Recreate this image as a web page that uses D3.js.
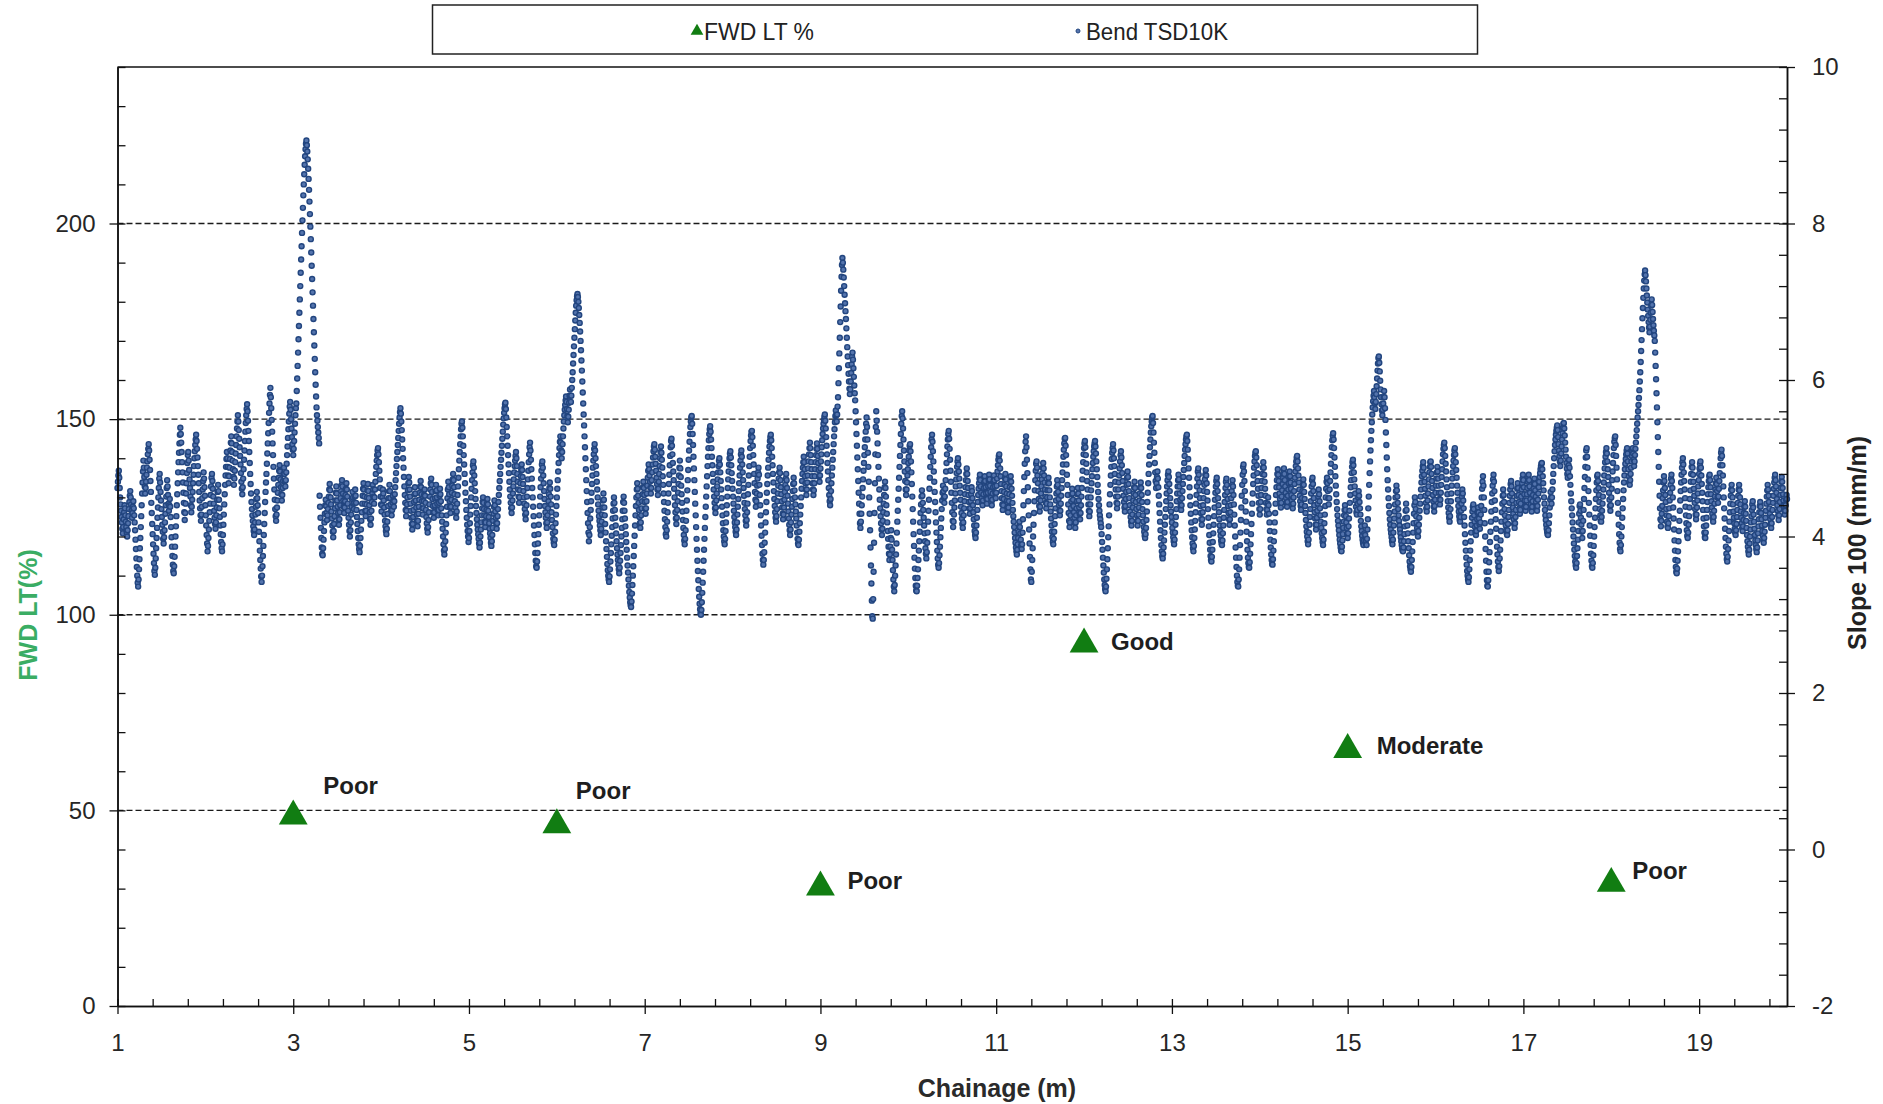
<!DOCTYPE html>
<html><head><meta charset="utf-8">
<script src="https://cdn.jsdelivr.net/npm/d3@7"></script>
<style>
html,body{margin:0;padding:0;background:#fff;}
svg{display:block;font-family:"Liberation Sans",Arial,Helvetica,sans-serif;}
.axis .domain{stroke:#111;stroke-width:1.5;}
.axis .tick line{stroke:#111;stroke-width:1.3;}
.axis .tick text{font-size:24px;fill:#262626;font-family:"Liberation Sans",Arial,sans-serif;}
</style></head><body>
<svg id="chart" width="1883" height="1104"></svg>
<script>
// FWD load transfer at the test joints
const fwdChainage = [3, 6, 9, 12, 15, 18];
const fwdLT = [48.5, 46.3, 30.4, 92.5, 65.5, 31.3];
const fwdRating = ["Poor", "Poor", "Poor", "Good", "Moderate", "Poor"];

// TSD slope at 100 mm (mm/m), evenly sampled from chainage 1 to 20
const tsdStart = 1, tsdEnd = 20;
const tsdSlope100 = [
4.62,4.70,4.78,4.84,4.75,4.62,4.50,4.41,4.33,4.25,4.18,4.10,4.04,4.12,4.22,4.31,4.40,4.36,4.27,4.19,
4.12,4.05,4.00,4.08,4.17,4.26,4.35,4.44,4.52,4.58,4.50,4.41,4.33,4.24,4.30,4.38,4.45,4.36,4.27,4.18,
4.08,3.96,3.84,3.72,3.61,3.50,3.41,3.36,3.45,3.58,3.71,3.85,3.98,4.12,4.26,4.40,4.55,4.69,4.83,4.97,
4.88,4.76,4.64,4.55,4.62,4.70,4.79,4.88,4.96,5.05,5.12,5.18,5.10,4.98,4.85,4.71,4.57,4.43,4.30,4.16,
4.03,3.90,3.78,3.66,3.56,3.51,3.60,3.72,3.85,3.98,4.11,4.24,4.37,4.50,4.62,4.74,4.80,4.69,4.57,4.46,
4.35,4.25,4.15,4.06,3.97,3.91,3.99,4.08,4.18,4.29,4.40,4.51,4.62,4.72,4.64,4.53,4.42,4.33,4.40,4.48,
4.38,4.25,4.12,3.99,3.87,3.75,3.64,3.56,3.53,3.62,3.74,3.87,4.00,4.13,4.26,4.40,4.54,4.68,4.82,4.95,
5.07,5.19,5.30,5.39,5.31,5.20,5.08,4.95,4.82,4.69,4.56,4.43,4.31,4.21,4.30,4.42,4.55,4.68,4.81,4.94,
5.04,5.08,4.97,4.85,4.73,4.62,4.51,4.40,4.31,4.38,4.47,4.57,4.68,4.79,4.90,5.00,5.09,5.17,5.24,5.30,
5.22,5.12,5.01,4.90,4.79,4.68,4.57,4.46,4.36,4.27,4.20,4.28,4.38,4.49,4.60,4.71,4.82,4.74,4.63,4.52,
4.40,4.27,4.14,4.02,3.91,3.81,3.88,3.98,4.09,4.20,4.31,4.42,4.53,4.64,4.75,4.80,4.71,4.61,4.51,4.42,
4.33,4.24,4.16,4.10,4.18,4.27,4.37,4.47,4.57,4.66,4.58,4.47,4.36,4.25,4.14,4.03,3.93,3.85,3.81,3.90,
4.02,4.15,4.28,4.41,4.54,4.66,4.78,4.89,4.99,5.08,5.00,4.89,4.78,4.68,4.77,4.88,4.99,5.10,5.20,5.28,
5.19,5.08,4.97,4.86,4.76,4.66,4.74,4.84,4.95,5.06,5.17,5.28,5.38,5.47,5.55,5.47,5.36,5.25,5.14,5.03,
4.92,4.81,4.70,4.61,4.54,4.63,4.74,4.86,4.98,5.10,5.22,5.34,5.45,5.55,5.63,5.69,5.60,5.48,5.35,5.22,
5.08,4.94,4.80,4.67,4.55,4.44,4.35,4.27,4.20,4.13,4.07,4.02,4.09,4.18,4.28,4.38,4.48,4.57,4.49,4.40,
4.30,4.18,4.06,3.94,3.82,3.70,3.59,3.49,3.42,3.50,3.62,3.75,3.88,4.02,4.16,4.30,4.44,4.57,4.69,4.80,
4.93,5.06,5.19,5.32,5.45,5.58,5.70,5.81,5.90,5.78,5.64,5.49,5.34,5.19,5.04,4.89,4.74,4.60,4.47,4.35,
4.26,4.20,4.28,4.37,4.46,4.56,4.66,4.75,4.84,4.91,4.83,4.73,4.63,4.54,4.46,4.53,4.62,4.71,4.80,4.88,
4.80,4.71,4.64,4.72,4.82,4.93,5.04,5.15,5.26,5.37,5.47,5.57,5.66,5.72,5.62,5.50,5.38,5.27,5.18,5.11,
5.04,5.12,5.22,5.33,5.44,5.55,5.64,5.70,5.86,6.02,6.18,6.35,6.52,6.69,6.86,7.03,7.20,7.37,7.54,7.71,
7.88,8.04,8.20,8.36,8.50,8.63,8.75,8.86,8.95,9.02,9.06,9.00,8.92,8.82,8.70,8.57,8.43,8.28,8.12,7.96,
7.80,7.63,7.46,7.29,7.12,6.95,6.78,6.61,6.44,6.27,6.10,5.94,5.79,5.65,5.55,5.48,5.40,5.33,5.26,5.19,
4.52,4.38,4.24,4.11,3.98,3.86,3.78,3.76,3.85,3.96,4.07,4.18,4.29,4.40,4.47,4.39,4.30,4.21,4.27,4.35,
4.43,4.51,4.60,4.67,4.59,4.50,4.41,4.32,4.23,4.14,4.06,3.99,4.07,4.16,4.26,4.36,4.46,4.56,4.64,4.55,
4.46,4.38,4.30,4.22,4.15,4.22,4.31,4.40,4.49,4.58,4.66,4.72,4.64,4.55,4.46,4.38,4.30,4.37,4.45,4.53,
4.61,4.68,4.60,4.51,4.42,4.33,4.24,4.15,4.07,4.00,4.08,4.18,4.28,4.38,4.48,4.57,4.50,4.42,4.35,4.43,
4.51,4.60,4.52,4.43,4.34,4.25,4.16,4.07,3.98,3.90,3.84,3.80,3.88,3.98,4.09,4.20,4.31,4.42,4.52,4.61,
4.68,4.60,4.51,4.42,4.33,4.26,4.33,4.41,4.50,4.59,4.67,4.58,4.49,4.40,4.31,4.22,4.15,4.23,4.33,4.44,
4.55,4.66,4.60,4.51,4.42,4.50,4.60,4.70,4.80,4.89,4.97,5.04,5.10,5.13,5.05,4.95,4.84,4.73,4.62,4.51,
4.41,4.32,4.40,4.50,4.60,4.55,4.46,4.37,4.28,4.20,4.13,4.07,4.03,4.10,4.19,4.29,4.39,4.49,4.58,4.66,
4.58,4.49,4.41,4.33,4.27,4.34,4.43,4.52,4.46,4.38,4.45,4.54,4.63,4.72,4.81,4.90,4.99,5.08,5.17,5.26,
5.35,5.44,5.52,5.59,5.64,5.57,5.47,5.36,5.24,5.12,5.00,4.88,4.76,4.64,4.53,4.43,4.34,4.26,4.33,4.41,
4.50,4.59,4.68,4.76,4.69,4.60,4.51,4.42,4.33,4.24,4.16,4.09,4.16,4.25,4.34,4.44,4.54,4.63,4.55,4.46,
4.37,4.28,4.20,4.13,4.20,4.29,4.38,4.47,4.56,4.64,4.71,4.63,4.54,4.45,4.36,4.28,4.36,4.45,4.53,4.60,
4.52,4.43,4.34,4.25,4.17,4.10,4.05,4.12,4.21,4.31,4.41,4.51,4.60,4.68,4.74,4.66,4.57,4.48,4.39,4.31,
4.24,4.31,4.40,4.49,4.58,4.66,4.59,4.50,4.42,4.34,4.27,4.34,4.43,4.52,4.61,4.54,4.45,4.36,4.27,4.19,
4.10,4.00,3.90,3.82,3.77,3.84,3.94,4.05,4.16,4.27,4.38,4.49,4.60,4.70,4.63,4.54,4.45,4.37,4.30,4.38,
4.47,4.56,4.65,4.73,4.80,4.72,4.63,4.54,4.45,4.37,4.30,4.24,4.32,4.42,4.53,4.64,4.75,4.86,4.97,5.08,
5.18,5.28,5.37,5.44,5.47,5.39,5.28,5.16,5.04,4.92,4.80,4.68,4.56,4.45,4.34,4.24,4.15,4.07,4.00,3.93,
3.98,4.07,4.17,4.28,4.39,4.50,4.61,4.72,4.82,4.91,4.96,4.88,4.78,4.68,4.58,4.48,4.39,4.30,4.22,4.15,
4.09,4.03,3.97,3.91,3.86,3.92,4.00,4.09,4.18,4.27,4.36,4.44,4.50,4.43,4.35,4.27,4.19,4.12,4.18,4.26,
4.34,4.42,4.48,4.41,4.33,4.25,4.17,4.10,4.04,3.98,3.92,3.88,3.94,4.02,4.11,4.20,4.29,4.38,4.46,4.40,
4.32,4.24,4.17,4.10,4.17,4.26,4.35,4.44,4.53,4.62,4.71,4.80,4.89,4.98,5.07,5.16,5.25,5.34,5.43,5.51,
5.58,5.64,5.69,5.71,5.63,5.52,5.40,5.28,5.16,5.04,4.92,4.81,4.70,4.60,4.51,4.43,4.36,4.30,4.37,4.46,
4.55,4.64,4.73,4.82,4.90,4.97,5.03,5.08,5.00,4.90,4.80,4.70,4.60,4.51,4.43,4.50,4.59,4.68,4.77,4.85,
4.92,4.85,4.76,4.67,4.58,4.50,4.42,4.35,4.28,4.22,4.30,4.40,4.51,4.62,4.73,4.84,4.95,5.05,5.14,5.20,
5.10,4.98,4.86,4.74,4.62,4.50,4.38,4.26,4.14,4.02,3.90,3.79,3.69,3.62,3.60,3.68,3.79,3.91,4.03,4.15,
4.27,4.39,4.51,4.63,4.74,4.84,4.92,4.96,4.88,4.78,4.68,4.58,4.48,4.39,4.31,4.24,4.17,4.11,4.18,4.27,
4.36,4.45,4.54,4.62,4.69,4.61,4.51,4.41,4.31,4.21,4.12,4.04,3.97,3.92,3.89,3.96,4.06,4.17,4.28,4.39,
4.50,4.61,4.72,4.83,4.94,5.04,5.13,5.21,5.28,5.20,5.10,5.00,5.08,5.18,5.28,5.38,5.47,5.55,5.62,5.68,
5.74,5.79,5.72,5.63,5.54,5.46,5.53,5.62,5.71,5.80,5.88,5.80,5.72,5.80,5.90,6.00,6.10,6.21,6.32,6.43,
6.54,6.65,6.76,6.86,6.95,7.02,7.07,7.10,7.06,7.00,6.92,6.83,6.73,6.62,6.50,6.38,6.25,6.12,5.98,5.84,
5.70,5.56,5.42,5.28,5.14,5.00,4.86,4.72,4.58,4.44,4.30,4.17,4.05,3.94,4.02,4.12,4.23,4.34,4.45,4.56,
4.67,4.78,4.88,4.97,5.05,5.12,5.18,5.10,5.00,4.90,4.80,4.70,4.60,4.50,4.41,4.33,4.26,4.20,4.14,4.08,
4.02,4.10,4.19,4.28,4.37,4.46,4.55,4.47,4.37,4.27,4.16,4.05,3.94,3.84,3.74,3.65,3.57,3.50,3.45,3.42,
3.49,3.58,3.68,3.79,3.90,4.01,4.12,4.23,4.33,4.42,4.50,4.43,4.34,4.24,4.14,4.04,3.94,3.85,3.77,3.70,
3.64,3.58,3.53,3.60,3.69,3.79,3.89,4.00,4.11,4.22,4.33,4.44,4.51,4.43,4.33,4.23,4.13,4.03,3.93,3.83,
3.73,3.63,3.54,3.45,3.37,3.29,3.22,3.16,3.12,3.10,3.17,3.27,3.38,3.50,3.62,3.75,3.88,4.01,4.14,4.27,
4.39,4.50,4.60,4.68,4.61,4.52,4.43,4.34,4.25,4.17,4.11,4.18,4.27,4.36,4.45,4.54,4.63,4.70,4.62,4.53,
4.44,4.36,4.29,4.36,4.45,4.55,4.65,4.75,4.84,4.92,4.86,4.78,4.70,4.62,4.55,4.62,4.72,4.82,4.92,5.01,
5.09,5.15,5.18,5.11,5.02,4.93,4.84,4.75,4.67,4.60,4.53,4.61,4.70,4.80,4.90,5.00,5.08,5.15,5.07,4.98,
4.88,4.77,4.66,4.55,4.44,4.33,4.22,4.12,4.03,4.00,4.08,4.19,4.31,4.43,4.55,4.67,4.79,4.91,5.03,5.14,
5.22,5.25,5.16,5.05,4.94,4.83,4.72,4.61,4.50,4.40,4.31,4.23,4.16,4.24,4.34,4.45,4.56,4.67,4.78,4.88,
4.97,4.87,4.76,4.65,4.54,4.43,4.32,4.21,4.11,4.02,3.95,3.90,3.97,4.08,4.20,4.33,4.46,4.59,4.72,4.85,
4.98,5.10,5.21,5.31,5.40,5.47,5.52,5.54,5.44,5.31,5.17,5.02,4.87,4.72,4.57,4.42,4.27,4.12,3.97,3.83,
3.69,3.56,3.44,3.33,3.23,3.14,3.07,3.02,3.00,3.06,3.16,3.28,3.41,3.55,3.69,3.83,3.97,4.11,4.25,4.38,
4.51,4.64,4.77,4.90,5.02,5.13,5.23,5.31,5.37,5.41,5.34,5.24,5.13,5.02,4.91,4.80,4.70,4.60,4.51,4.43,
4.36,4.30,4.37,4.46,4.55,4.64,4.73,4.82,4.90,4.97,5.00,4.92,4.82,4.71,4.60,4.49,4.38,4.27,4.17,4.08,
4.00,3.94,3.90,3.97,4.07,4.18,4.29,4.40,4.51,4.62,4.73,4.83,4.92,5.00,5.06,5.09,5.01,4.91,4.81,4.71,
4.61,4.51,4.42,4.33,4.25,4.18,4.12,4.06,4.02,4.09,4.18,4.28,4.38,4.48,4.58,4.68,4.78,4.88,4.97,5.05,
5.10,5.02,4.92,4.82,4.72,4.62,4.52,4.43,4.35,4.27,4.20,4.14,4.21,4.31,4.42,4.54,4.66,4.78,4.90,5.02,
5.13,5.22,5.29,5.34,5.35,5.27,5.16,5.04,4.92,4.80,4.68,4.57,4.47,4.38,4.45,4.55,4.65,4.74,4.82,4.88,
4.79,4.66,4.53,4.40,4.27,4.14,4.01,3.89,3.78,3.70,3.64,3.70,3.80,3.92,4.05,4.18,4.31,4.44,4.56,4.67,
4.78,4.88,4.98,5.07,5.15,5.22,5.27,5.30,5.23,5.13,5.02,4.91,4.80,4.69,4.58,4.48,4.39,4.31,4.24,4.19,
4.26,4.35,4.45,4.55,4.65,4.74,4.82,4.88,4.81,4.72,4.63,4.54,4.45,4.37,4.29,4.22,4.28,4.37,4.47,4.57,
4.66,4.74,4.80,4.72,4.62,4.52,4.42,4.32,4.23,4.15,4.08,4.02,4.09,4.18,4.28,4.38,4.48,4.58,4.67,4.75,
4.68,4.59,4.50,4.41,4.32,4.23,4.14,4.05,3.97,3.91,3.89,3.96,4.06,4.17,4.28,4.39,4.50,4.61,4.71,4.80,
4.88,4.95,5.02,4.95,4.86,4.77,4.68,4.60,4.53,4.60,4.69,4.78,4.87,4.96,5.05,5.13,5.20,5.13,5.04,4.95,
4.86,4.77,4.68,4.60,4.53,4.59,4.68,4.77,4.86,4.95,5.04,5.12,5.19,5.12,5.03,4.94,4.85,4.77,4.70,4.78,
4.87,4.96,5.05,5.14,5.23,5.31,5.38,5.44,5.49,5.53,5.56,5.48,5.38,5.27,5.16,5.05,4.94,4.83,4.72,4.62,
4.53,4.45,4.40,4.48,4.58,4.68,4.78,4.88,4.98,5.08,5.18,5.28,5.37,5.46,5.54,5.61,5.55,5.47,5.56,5.66,
5.78,5.96,6.15,6.34,6.54,6.74,6.94,7.14,7.32,7.47,7.56,7.50,7.41,7.31,7.20,7.09,6.98,6.88,6.78,6.66,
6.54,6.42,6.30,6.19,6.08,5.98,5.89,5.82,5.88,5.98,6.09,6.20,6.30,6.35,6.26,6.15,6.04,5.93,5.83,5.74,
5.60,5.46,5.31,5.16,5.01,4.86,4.71,4.56,4.42,4.29,4.17,4.11,4.19,4.29,4.40,4.51,4.62,4.73,4.84,4.94,
5.04,5.14,5.24,5.34,5.44,5.52,5.40,5.24,5.07,4.89,4.70,4.50,4.29,4.08,3.86,3.63,3.40,3.18,2.98,2.95,
3.20,3.55,3.92,4.30,4.68,5.05,5.40,5.60,5.48,5.34,5.19,5.04,4.89,4.74,4.60,4.47,4.36,4.26,4.17,4.09,
4.02,4.10,4.20,4.31,4.42,4.53,4.63,4.70,4.62,4.51,4.40,4.29,4.18,4.07,3.97,3.87,3.78,3.70,3.77,3.87,
3.98,4.08,3.96,3.83,3.70,3.57,3.45,3.36,3.30,3.38,3.50,3.63,3.77,3.91,4.05,4.19,4.33,4.47,4.61,4.75,
4.89,5.03,5.17,5.31,5.44,5.54,5.60,5.51,5.38,5.24,5.10,4.96,4.83,4.71,4.60,4.53,4.60,4.69,4.78,4.86,
4.94,5.02,5.10,5.16,5.18,5.09,4.96,4.82,4.67,4.51,4.35,4.19,4.03,3.88,3.73,3.59,3.47,3.37,3.31,3.30,
3.37,3.47,3.58,3.70,3.82,3.94,4.06,4.18,4.30,4.41,4.51,4.59,4.52,4.43,4.34,4.24,4.14,4.04,3.94,3.85,
3.78,3.72,3.80,3.92,4.05,4.19,4.33,4.47,4.61,4.75,4.89,5.02,5.14,5.24,5.30,5.21,5.09,4.96,4.83,4.70,
4.57,4.44,4.31,4.18,4.05,3.93,3.82,3.72,3.64,3.60,3.66,3.76,3.87,3.99,4.11,4.23,4.35,4.46,4.56,4.65,
4.58,4.50,4.43,4.51,4.61,4.72,4.83,4.94,5.05,5.15,5.24,5.31,5.35,5.25,5.12,4.98,4.84,4.70,4.56,4.43,
4.31,4.20,4.12,4.19,4.28,4.37,4.46,4.55,4.64,4.73,4.81,4.89,4.96,5.00,4.92,4.83,4.74,4.65,4.56,4.47,
4.38,4.30,4.23,4.16,4.11,4.18,4.27,4.36,4.45,4.54,4.63,4.72,4.80,4.87,4.80,4.71,4.62,4.53,4.44,4.36,
4.29,4.36,4.45,4.54,4.63,4.58,4.49,4.40,4.31,4.22,4.14,4.07,4.02,3.98,4.05,4.14,4.24,4.34,4.44,4.53,
4.61,4.68,4.74,4.79,4.72,4.64,4.56,4.49,4.43,4.40,4.46,4.54,4.62,4.70,4.77,4.71,4.63,4.55,4.48,4.42,
4.48,4.56,4.64,4.72,4.79,4.73,4.65,4.57,4.50,4.44,4.40,4.47,4.55,4.63,4.71,4.78,4.72,4.64,4.56,4.49,
4.56,4.65,4.74,4.83,4.91,4.98,5.03,5.05,4.97,4.87,4.77,4.67,4.58,4.49,4.41,4.34,4.40,4.48,4.57,4.66,
4.74,4.80,4.73,4.64,4.55,4.46,4.38,4.31,4.37,4.45,4.54,4.63,4.71,4.77,4.70,4.61,4.52,4.43,4.34,4.26,
4.19,4.12,4.05,3.98,3.92,3.86,3.81,3.77,3.83,3.90,3.98,4.06,4.13,4.19,4.12,4.04,3.96,3.89,3.84,3.90,
4.05,4.22,4.40,4.58,4.76,4.93,5.09,5.21,5.28,5.14,4.98,4.81,4.63,4.45,4.27,4.09,3.91,3.74,3.58,3.45,
3.42,3.55,3.70,3.85,4.00,4.15,4.30,4.45,4.59,4.72,4.84,4.93,4.96,4.88,4.78,4.68,4.58,4.48,4.39,4.32,
4.38,4.46,4.55,4.64,4.73,4.81,4.88,4.94,4.87,4.78,4.69,4.60,4.51,4.43,4.36,4.42,4.50,4.59,4.68,4.75,
4.68,4.59,4.50,4.41,4.32,4.23,4.14,4.06,3.99,3.93,3.90,3.97,4.06,4.16,4.26,4.36,4.46,4.55,4.64,4.72,
4.66,4.57,4.48,4.40,4.33,4.27,4.33,4.42,4.52,4.62,4.72,4.82,4.92,5.02,5.11,5.19,5.25,5.26,5.16,5.04,
4.92,4.79,4.66,4.53,4.41,4.30,4.20,4.12,4.18,4.27,4.36,4.45,4.54,4.61,4.55,4.47,4.39,4.31,4.24,4.17,
4.11,4.18,4.27,4.36,4.45,4.54,4.62,4.55,4.46,4.37,4.29,4.22,4.30,4.40,4.51,4.62,4.73,4.84,4.95,5.05,
5.13,5.19,5.22,5.14,5.04,4.93,4.82,4.71,4.60,4.50,4.41,4.33,4.26,4.32,4.41,4.50,4.59,4.68,4.77,4.86,
4.94,5.02,5.09,5.15,5.19,5.22,5.15,5.06,4.96,4.86,4.76,4.66,4.57,4.48,4.40,4.33,4.27,4.22,4.17,4.12,
4.03,3.93,3.83,3.73,3.63,3.54,3.45,3.38,3.33,3.30,3.36,3.46,3.58,3.71,3.85,3.99,4.13,4.27,4.41,4.54,
4.66,4.78,4.89,4.99,5.07,5.13,5.18,5.10,5.00,4.90,4.80,4.70,4.60,4.51,4.43,4.36,4.42,4.51,4.60,4.69,
4.78,4.87,4.96,5.04,5.09,5.01,4.91,4.81,4.71,4.61,4.52,4.44,4.37,4.32,4.39,4.48,4.57,4.66,4.75,4.83,
4.76,4.67,4.58,4.49,4.40,4.32,4.25,4.19,4.14,4.20,4.28,4.37,4.46,4.55,4.63,4.70,4.62,4.53,4.44,4.35,
4.27,4.20,4.14,4.20,4.28,4.37,4.46,4.55,4.63,4.69,4.62,4.53,4.44,4.35,4.27,4.19,4.12,4.06,4.01,3.98,
4.03,4.11,4.21,4.32,4.44,4.56,4.68,4.80,4.92,5.03,5.14,5.24,5.33,5.41,5.47,5.52,5.54,5.45,5.33,5.20,
5.07,4.94,4.82,4.71,4.62,4.68,4.76,4.83,4.74,4.63,4.52,4.41,4.30,4.19,4.08,3.98,3.89,3.81,3.75,3.72,
3.78,3.86,3.95,4.05,4.15,4.25,4.35,4.45,4.55,4.64,4.72,4.79,4.83,4.76,4.67,4.58,4.49,4.40,4.32,4.25,
4.18,4.11,4.05,3.99,3.94,3.90,3.96,4.05,4.15,4.25,4.35,4.45,4.55,4.64,4.72,4.79,4.73,4.64,4.55,4.47,
4.40,4.34,4.40,4.49,4.58,4.67,4.76,4.85,4.94,5.03,5.11,5.18,5.24,5.28,5.30,5.22,5.11,4.99,4.87,4.75,
4.63,4.51,4.40,4.29,4.18,4.08,3.99,3.91,3.85,3.81,3.88,3.98,4.09,4.20,4.31,4.42,4.53,4.64,4.74,4.83,
4.87,4.79,4.69,4.59,4.49,4.39,4.30,4.22,4.15,4.22,4.31,4.40,4.49,4.58,4.66,4.73,4.79,4.85,4.78,4.68,
4.57,4.46,4.35,4.24,4.13,4.02,3.92,3.83,3.75,3.70,3.68,3.74,3.83,3.93,4.04,4.15,4.26,4.37,4.47,4.56,
4.64,4.71,4.75,4.67,4.58,4.49,4.40,4.31,4.22,4.14,4.07,4.01,3.95,3.91,3.89,3.95,4.04,4.14,4.24,4.34,
4.44,4.53,4.62,4.70,4.74,4.66,4.57,4.48,4.39,4.30,4.22,4.15,4.22,4.31,4.40,4.49,4.58,4.66,4.72,4.64,
4.53,4.41,4.28,4.14,4.00,3.86,3.73,3.61,3.50,3.42,3.37,3.36,3.45,3.58,3.73,3.89,4.05,4.21,4.37,4.52,
4.66,4.79,4.89,4.92,4.83,4.71,4.58,4.45,4.32,4.19,4.06,3.94,3.83,3.73,3.66,3.61,3.60,3.67,3.78,3.90,
4.03,4.16,4.29,4.42,4.55,4.67,4.78,4.88,4.96,5.03,5.07,5.09,5.01,4.91,4.81,4.71,4.61,4.52,4.43,4.35,
4.28,4.35,4.44,4.53,4.62,4.71,4.80,4.88,4.95,4.88,4.79,4.70,4.61,4.52,4.43,4.35,4.28,4.34,4.42,4.50,
4.40,4.29,4.18,4.07,3.96,3.86,3.77,3.70,3.65,3.64,3.71,3.82,3.94,4.06,4.18,4.30,4.42,4.53,4.63,4.72,
4.80,4.86,4.79,4.71,4.63,4.55,4.48,4.42,4.37,4.43,4.51,4.59,4.67,4.75,4.82,4.87,4.80,4.72,4.64,4.56,
4.49,4.43,4.38,4.44,4.52,4.60,4.68,4.76,4.83,4.77,4.69,4.61,4.53,4.46,4.40,4.36,4.42,4.50,4.58,4.67,
4.75,4.83,4.90,4.96,5.01,5.03,4.96,4.87,4.78,4.69,4.60,4.52,4.45,4.39,4.34,4.41,4.49,4.58,4.66,4.73,
4.66,4.57,4.48,4.39,4.30,4.21,4.13,4.06,4.00,3.94,3.90,3.96,4.05,4.15,4.25,4.35,4.45,4.55,4.64,4.72,
4.75,4.67,4.58,4.49,4.40,4.31,4.23,4.15,4.09,4.15,4.24,4.33,4.42,4.51,4.60,4.54,4.45,4.36,4.27,4.19,
4.11,4.04,3.98,3.93,3.89,3.96,4.06,4.17,4.28,4.39,4.50,4.61,4.70,4.75,4.68,4.58,4.49,4.41,4.49,4.60,
4.71,4.82,4.93,5.04,5.14,5.23,5.29,5.32,5.24,5.13,5.01,4.89,4.77,4.65,4.54,4.44,4.35,4.27,4.20,4.14,
4.08,4.02,3.96,3.91,3.86,3.82,3.81,3.87,3.95,4.03,4.11,4.19,4.27,4.34,4.40,4.34,4.26,4.18,4.11,4.04,
3.98,4.04,4.13,4.23,4.33,4.43,4.53,4.63,4.72,4.81,4.89,4.95,4.98,4.91,4.82,4.73,4.64,4.55,4.46,4.38,
4.31,4.28,4.34,4.42,4.50,4.58,4.52,4.44,4.36,4.28,4.20,4.13,4.07,4.01,3.96,3.92,3.89,3.95,4.04,4.14,
4.02,3.95,3.90,3.89,3.97,4.09,4.22,4.36,4.51,4.66,4.81,4.96,5.10,5.23,5.35,5.46,5.56,5.65,5.73,5.80,
5.86,5.78,5.70,5.63,5.72,5.82,5.92,6.02,6.12,6.21,6.28,6.30,6.22,6.11,5.99,5.88,5.78,5.69,5.61,5.55,
5.62,5.70,5.78,5.86,5.78,5.64,5.49,5.33,5.17,5.01,4.86,4.72,4.60,4.49,4.39,4.30,4.22,4.15,4.09,4.04,
3.99,3.94,3.90,3.96,4.05,4.14,4.23,4.32,4.41,4.50,4.58,4.65,4.59,4.51,4.43,4.35,4.27,4.20,4.14,4.09,
4.04,3.99,3.94,3.89,3.85,3.82,3.81,3.86,3.94,4.03,4.13,4.23,4.33,4.42,4.34,4.24,4.14,4.04,3.94,3.85,
3.76,3.68,3.62,3.58,3.55,3.61,3.70,3.81,3.93,4.05,4.17,4.29,4.40,4.50,4.44,4.35,4.26,4.18,4.11,4.05,
4.00,4.07,4.15,4.24,4.33,4.42,4.51,4.60,4.69,4.77,4.84,4.90,4.95,4.88,4.79,4.70,4.61,4.52,4.43,4.36,
4.32,4.38,4.46,4.55,4.64,4.73,4.82,4.89,4.95,4.96,4.89,4.80,4.71,4.62,4.53,4.45,4.38,4.32,4.39,4.47,
4.56,4.65,4.74,4.82,4.89,4.83,4.74,4.65,4.56,4.48,4.41,4.47,4.56,4.66,4.76,4.86,4.96,5.05,5.12,5.17,
5.20,5.13,5.03,4.93,4.83,4.73,4.63,4.54,4.45,4.37,4.30,4.24,4.19,4.26,4.35,4.45,4.55,4.65,4.74,4.82,
4.90,4.97,5.04,5.10,5.13,5.05,4.95,4.85,4.75,4.65,4.56,4.47,4.39,4.32,4.26,4.21,4.19,4.25,4.33,4.42,
4.51,4.60,4.55,4.46,4.36,4.25,4.14,4.03,3.92,3.82,3.73,3.64,3.56,3.50,3.45,3.42,3.48,3.58,3.70,3.82,
3.94,4.05,4.15,4.24,4.32,4.38,4.41,4.35,4.27,4.19,4.12,4.06,4.02,4.07,4.14,4.22,4.30,4.37,4.31,4.23,
4.16,4.10,4.18,4.28,4.39,4.50,4.61,4.70,4.77,4.65,4.50,4.34,4.17,4.00,3.84,3.69,3.55,3.44,3.37,3.36,
3.44,3.55,3.67,3.80,3.93,4.06,4.19,4.32,4.44,4.55,4.65,4.73,4.79,4.70,4.58,4.46,4.34,4.22,4.10,3.98,
3.87,3.77,3.68,3.61,3.56,3.62,3.72,3.83,3.95,4.07,4.19,4.31,4.42,4.52,4.60,4.53,4.44,4.35,4.27,4.20,
4.14,4.08,4.04,4.02,4.08,4.16,4.25,4.34,4.43,4.52,4.60,4.67,4.71,4.64,4.55,4.46,4.37,4.29,4.22,4.16,
4.11,4.17,4.25,4.34,4.43,4.52,4.61,4.68,4.62,4.53,4.44,4.36,4.29,4.34,4.42,4.51,4.60,4.68,4.74,4.79,
4.72,4.63,4.54,4.46,4.39,4.33,4.38,4.46,4.54,4.62,4.70,4.76,4.79,4.72,4.64,4.56,4.48,4.41,4.35,4.32,
4.38,4.45,4.53,4.61,4.68,4.74,4.67,4.59,4.51,4.44,4.38,4.33,4.39,4.47,4.55,4.63,4.70,4.76,4.81,4.86,
4.90,4.93,4.94,4.86,4.77,4.68,4.59,4.50,4.42,4.34,4.27,4.21,4.15,4.10,4.06,4.03,4.02,4.08,4.17,4.27,
4.37,4.47,4.57,4.50,4.42,4.50,4.60,4.70,4.80,4.90,5.00,5.09,5.17,5.24,5.30,5.35,5.39,5.42,5.36,5.27,
5.18,5.10,5.03,4.96,4.90,4.97,5.06,5.15,5.24,5.32,5.39,5.44,5.45,5.38,5.29,5.20,5.11,5.02,4.94,4.87,
4.80,4.75,4.82,4.91,4.98,4.88,4.77,4.66,4.55,4.45,4.36,4.27,4.18,4.09,4.00,3.91,3.83,3.75,3.68,3.63,
3.60,3.66,3.75,3.85,3.96,4.07,4.18,4.29,4.39,4.41,4.33,4.24,4.15,4.06,3.98,4.07,4.20,4.34,4.48,4.62,
4.76,4.89,5.01,5.10,5.13,5.02,4.88,4.73,4.58,4.43,4.28,4.14,4.01,3.89,3.78,3.69,3.62,3.60,3.66,3.76,
3.88,4.00,4.12,4.24,4.36,4.48,4.59,4.69,4.77,4.79,4.71,4.62,4.53,4.44,4.35,4.27,4.20,4.19,4.25,4.33,
4.42,4.51,4.60,4.69,4.78,4.87,4.95,5.02,5.08,5.13,5.06,4.96,4.86,4.76,4.66,4.56,4.47,4.39,4.33,4.40,
4.50,4.61,4.72,4.83,4.94,5.04,5.13,5.21,5.26,5.28,5.17,5.03,4.88,4.73,4.58,4.43,4.29,4.15,4.03,3.92,
3.84,3.81,3.89,4.00,4.12,4.24,4.36,4.48,4.59,4.69,4.78,4.86,4.93,4.99,5.05,5.10,5.13,5.06,4.96,4.86,
4.77,4.70,4.66,4.72,4.80,4.88,4.96,5.03,5.09,5.13,5.06,4.98,4.90,4.96,5.04,5.12,5.20,5.28,5.36,5.44,
5.52,5.60,5.68,5.77,5.87,5.98,6.10,6.23,6.37,6.51,6.65,6.79,6.92,7.05,7.17,7.27,7.35,7.40,7.34,7.26,
7.17,7.08,6.99,6.90,6.82,6.74,6.67,6.61,6.68,6.77,6.86,6.95,7.03,6.96,6.87,6.78,6.70,6.63,6.57,6.50,
6.35,6.18,6.01,5.83,5.65,5.46,5.27,5.08,4.89,4.70,4.52,4.36,4.22,4.13,4.20,4.29,4.39,4.49,4.59,4.69,
4.77,4.71,4.62,4.53,4.44,4.35,4.27,4.19,4.13,4.11,4.17,4.26,4.36,4.46,4.56,4.66,4.74,4.79,4.71,4.62,
4.50,4.37,4.23,4.09,3.95,3.82,3.70,3.61,3.55,3.53,3.59,3.69,3.81,3.94,4.07,4.20,4.33,4.46,4.58,4.69,
4.79,4.88,4.95,5.00,4.92,4.82,4.71,4.60,4.49,4.38,4.27,4.17,4.08,4.01,3.98,4.05,4.15,4.26,4.37,4.48,
4.59,4.70,4.80,4.89,4.95,4.88,4.79,4.70,4.61,4.52,4.43,4.35,4.28,4.22,4.28,4.37,4.46,4.55,4.64,4.72,
4.80,4.87,4.93,4.96,4.88,4.78,4.67,4.56,4.45,4.34,4.23,4.13,4.05,3.99,3.98,4.05,4.14,4.24,4.34,4.44,
4.54,4.63,4.71,4.77,4.79,4.72,4.63,4.54,4.45,4.37,4.29,4.23,4.19,4.25,4.33,4.42,4.51,4.60,4.68,4.75,
4.67,4.58,4.50,4.43,4.51,4.61,4.71,4.81,4.91,5.00,5.07,5.11,5.03,4.91,4.78,4.64,4.50,4.36,4.23,4.10,
3.98,3.87,3.78,3.71,3.68,3.74,3.84,3.95,4.07,4.19,4.31,4.42,4.52,4.60,4.66,4.59,4.50,4.41,4.32,4.24,
4.17,4.10,4.05,4.02,4.08,4.16,4.25,4.34,4.43,4.52,4.60,4.66,4.59,4.50,4.41,4.32,4.24,4.17,4.11,4.07,
4.13,4.21,4.30,4.38,4.45,4.38,4.29,4.20,4.11,4.02,3.94,3.87,3.81,3.77,3.83,3.91,4.00,4.09,4.18,4.26,
4.34,4.41,4.45,4.37,4.28,4.19,4.10,4.02,3.95,3.89,3.84,3.80,3.86,3.95,4.04,4.13,4.22,4.31,4.39,4.44,
4.38,4.30,4.22,4.14,4.07,4.01,3.96,3.92,3.98,4.06,4.15,4.24,4.33,4.42,4.51,4.59,4.66,4.60,4.52,4.44,
4.36,4.29,4.22,4.16,4.11,4.17,4.25,4.34,4.43,4.52,4.61,4.69,4.75,4.79,4.72,4.64,4.56,4.48,4.40,4.33,
4.27,4.21,4.27,4.35,4.44,4.53,4.62,4.70,4.76,4.70,4.62,4.54,4.46,4.39,4.33,4.28,4.33,4.40,4.47,4.53,
4.48
];

// Axis ticks
const xTickLabels = [1, 3, 5, 7, 9, 11, 13, 15, 17, 19];
const leftTickLabels = [0, 50, 100, 150, 200];
const rightTickLabels = [-2, 0, 2, 4, 6, 8, 10];
const gridValues = [50, 100, 150, 200];

// ---- layout ----
const svg = d3.select("#chart");
const plot = {left: 117.5, right: 1787, top: 67, bottom: 1006};
const x = d3.scaleLinear().domain([tsdStart, tsdEnd]).range([plot.left, plot.right]);
const yLT = d3.scaleLinear().domain([0, 240]).range([plot.bottom, plot.top]);
const ySlope = d3.scaleLinear().domain([-2, 10]).range([plot.bottom, plot.top]);

const xMinor = d3.range(0, 48).map(i => 1 + i * 0.4).filter(v => v <= 20.0001);
const leftMinor = d3.range(0, 250, 10);
const rightMinor = d3.range(0, 31).map(i => -2 + i * 0.4);
const plainNumber = d => String(d);

// dashed reference lines
svg.append("g").selectAll("line").data(gridValues).join("line")
  .attr("x1", x(tsdStart)).attr("x2", x(tsdEnd))
  .attr("y1", d => yLT(d)).attr("y2", d => yLT(d))
  .attr("stroke", "#1a1a1a").attr("stroke-width", 1.3).attr("stroke-dasharray", "6,3");

// TSD slope points
const step = (tsdEnd - tsdStart) / (tsdSlope100.length - 1);
svg.append("g").selectAll("circle").data(tsdSlope100).join("circle")
  .attr("cx", (d, i) => x(tsdStart + i * step))
  .attr("cy", d => ySlope(d))
  .attr("r", 2.5)
  .attr("fill", "#5474ad")
  .attr("stroke", "#22457f")
  .attr("stroke-width", 1.4);

// inner (minor + major) ticks
svg.append("g").attr("class", "axis").attr("transform", `translate(0,${plot.bottom})`)
  .call(d3.axisBottom(x).tickValues(xMinor).tickSize(-7).tickSizeOuter(0).tickFormat(""));
svg.append("g").attr("class", "axis").attr("transform", `translate(${plot.left},0)`)
  .call(d3.axisLeft(yLT).tickValues(leftMinor).tickSize(-8).tickSizeOuter(0).tickFormat(""));
svg.append("g").attr("class", "axis").attr("transform", `translate(${plot.right},0)`)
  .call(d3.axisRight(ySlope).tickValues(rightMinor).tickSize(-8).tickSizeOuter(0).tickFormat(""));

// outer major ticks with labels
svg.append("g").attr("class", "axis").attr("transform", `translate(0,${plot.bottom})`)
  .call(d3.axisBottom(x).tickValues(xTickLabels).tickSize(8).tickPadding(20).tickSizeOuter(0).tickFormat(plainNumber));
svg.append("g").attr("class", "axis").attr("transform", `translate(${plot.left},0)`)
  .call(d3.axisLeft(yLT).tickValues(leftTickLabels).tickSize(8).tickPadding(14).tickSizeOuter(0).tickFormat(plainNumber));
svg.append("g").attr("class", "axis").attr("transform", `translate(${plot.right},0)`)
  .call(d3.axisRight(ySlope).tickValues(rightTickLabels).tickSize(8).tickPadding(17).tickSizeOuter(0).tickFormat(plainNumber));

// top frame
svg.append("line").attr("x1", x(tsdStart)).attr("x2", x(tsdEnd))
  .attr("y1", yLT(240)).attr("y2", yLT(240))
  .attr("stroke", "#111").attr("stroke-width", 1.5);

// FWD load transfer markers and ratings
const green = "#117d12";
const triangle = d3.symbol().type(d3.symbolTriangle).size(360);
const ratingOffset = [[30, -22], [19, -26], [27, 2], [27, 6], [29, 4], [21, -5]];
const fwd = fwdChainage.map((c, i) => ({c, v: fwdLT[i], r: fwdRating[i], o: ratingOffset[i]}));
svg.append("g").selectAll("path").data(fwd).join("path")
  .attr("d", triangle)
  .attr("transform", d => `translate(${x(d.c)},${yLT(d.v)})`)
  .attr("fill", green);
svg.append("g").selectAll("text").data(fwd).join("text")
  .attr("x", d => x(d.c) + d.o[0]).attr("y", d => yLT(d.v) + d.o[1])
  .attr("font-size", 24).attr("font-weight", "bold").attr("fill", "#1e1e1e")
  .text(d => d.r);

// axis titles
svg.append("text")
  .attr("transform", `translate(37,615) rotate(-90)`)
  .attr("text-anchor", "middle").attr("font-size", 25).attr("font-weight", "bold")
  .attr("fill", "#3aad64").text("FWD LT(%)");
svg.append("text")
  .attr("transform", `translate(1866,543) rotate(-90)`)
  .attr("text-anchor", "middle").attr("font-size", 25).attr("font-weight", "bold")
  .attr("fill", "#222").text("Slope 100 (mm/m)");
svg.append("text")
  .attr("x", 997).attr("y", 1097)
  .attr("text-anchor", "middle").attr("font-size", 25).attr("font-weight", "bold")
  .attr("fill", "#2a2a2a").text("Chainage (m)");

// legend
const legend = svg.append("g");
legend.append("rect").attr("x", 432.5).attr("y", 5).attr("width", 1045).attr("height", 49)
  .attr("fill", "#fff").attr("stroke", "#222").attr("stroke-width", 1.5);
legend.append("path").attr("d", d3.symbol().type(d3.symbolTriangle).size(70))
  .attr("transform", "translate(697,31)").attr("fill", green);
legend.append("text").attr("x", 704).attr("y", 40)
  .attr("font-size", 24).attr("fill", "#222")
  .attr("textLength", 110).attr("lengthAdjust", "spacingAndGlyphs").text("FWD LT %");
legend.append("circle").attr("cx", 1078).attr("cy", 31).attr("r", 2)
  .attr("fill", "#5474ad").attr("stroke", "#22457f").attr("stroke-width", 1);
legend.append("text").attr("x", 1086).attr("y", 40)
  .attr("font-size", 24).attr("fill", "#222")
  .attr("textLength", 142).attr("lengthAdjust", "spacingAndGlyphs").text("Bend TSD10K");
</script>
</body></html>
